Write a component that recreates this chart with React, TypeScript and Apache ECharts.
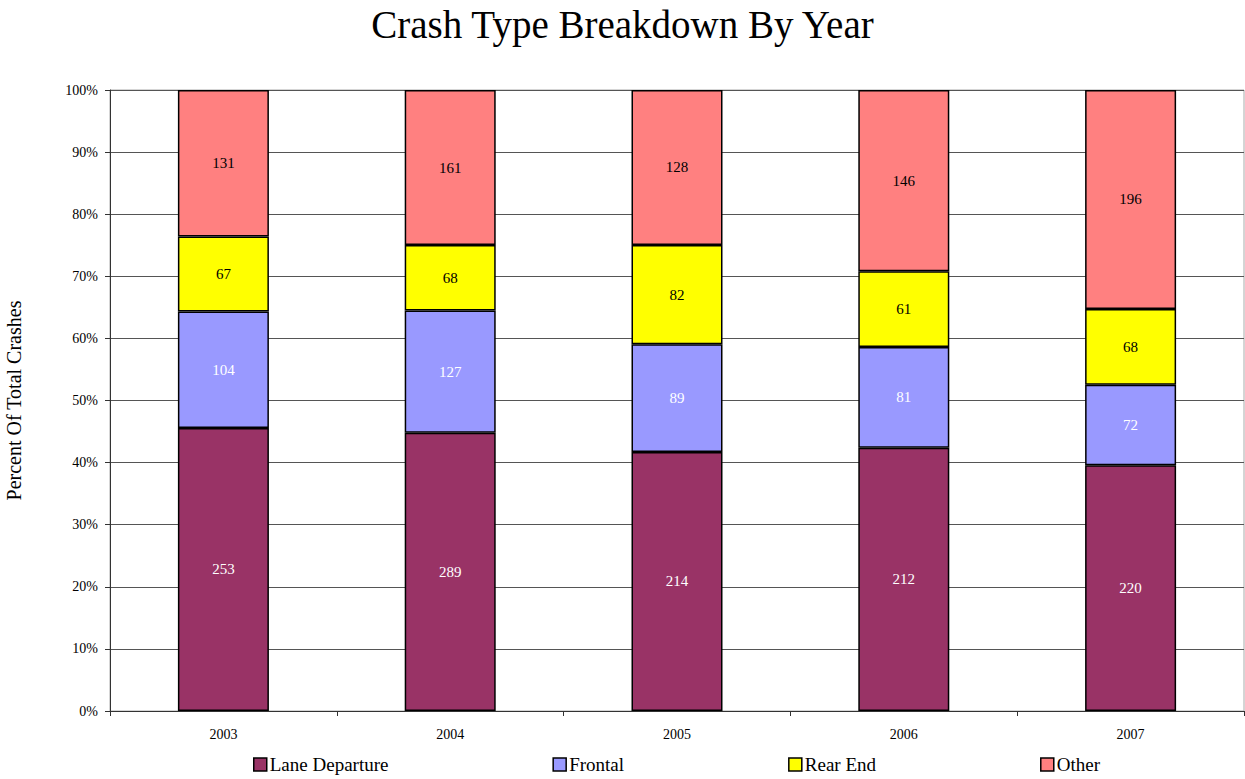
import React, { useEffect, useRef } from "react";
import * as echarts from "echarts";

const years = ["2003", "2004", "2005", "2006", "2007"];
const laneDeparture = [253, 289, 214, 212, 220];
const frontal = [104, 127, 89, 81, 72];
const rearEnd = [67, 68, 82, 61, 68];
const other = [131, 161, 128, 146, 196];
const yTicks = [0, 10, 20, 30, 40, 50, 60, 70, 80, 90, 100];

const seriesDefs = [
  { name: "Lane Departure", data: laneDeparture, color: "#993366", label: "#ffffff" },
  { name: "Frontal", data: frontal, color: "#9999ff", label: "#ffffff" },
  { name: "Rear End", data: rearEnd, color: "#ffff00", label: "#000000" },
  { name: "Other", data: other, color: "#ff8080", label: "#000000" },
];

const FONT = "'Liberation Serif', 'Times New Roman', serif";

export default function App() {
  const ref = useRef<HTMLDivElement>(null);
  useEffect(() => {
    if (!ref.current) return;
    const chart = echarts.init(ref.current, null, { renderer: "svg" });
    const totals = years.map((_, i) =>
      seriesDefs.reduce((s, d) => s + d.data[i], 0)
    );
    chart.setOption({
      animation: false,
      backgroundColor: "#ffffff",
      title: {
        text: "Crash Type Breakdown By Year",
        left: "center",
        top: 0,
        textStyle: { fontFamily: FONT, fontSize: 39, fontWeight: "normal", color: "#000" },
      },
      legend: {
        bottom: 0,
        left: 248,
        itemGap: 164,
        itemWidth: 13,
        itemHeight: 13,
        icon: "rect",
        textStyle: { fontFamily: FONT, fontSize: 19, color: "#000", padding: [0, 0, 0, -2] },
        data: seriesDefs.map((d) => ({
          name: d.name,
          itemStyle: { color: d.color, borderColor: "#000", borderWidth: 1.5 },
        })),
      },
      grid: {
        left: 110,
        right: 1,
        top: 90,
        bottom: 68,
        show: true,
        borderColor: "#aaaaaa",
        borderWidth: 1,
        outerBoundsMode: "none",
        containLabel: false,
      },
      xAxis: {
        type: "category",
        data: years,
        axisLine: { lineStyle: { color: "#333", width: 1 } },
        axisTick: { show: true, length: 5, alignWithLabel: false, lineStyle: { color: "#333" } },
        axisLabel: { fontFamily: FONT, fontSize: 14, color: "#000", margin: 16 },
      },
      yAxis: {
        type: "value",
        min: yTicks[0],
        max: yTicks[yTicks.length - 1],
        interval: 10,
        name: "Percent Of Total Crashes",
        nameLocation: "middle",
        nameGap: 86,
        nameTextStyle: { fontFamily: FONT, fontSize: 20, color: "#000" },
        axisLine: { show: true, lineStyle: { color: "#333", width: 1 } },
        axisTick: { show: true, length: 5, lineStyle: { color: "#333" } },
        axisLabel: {
          fontFamily: FONT,
          fontSize: 14,
          color: "#000",
          margin: 12,
          formatter: (v: number) => v + "%",
        },
        splitLine: { show: true, lineStyle: { color: "#555", width: 1 } },
      },
      series: seriesDefs.map((d) => ({
        name: d.name,
        type: "bar",
        stack: "total",
        barWidth: 91,
        data: d.data.map((v, i) => (v / totals[i]) * 100),
        itemStyle: { color: d.color, borderColor: "#000", borderWidth: 1.5 },
        label: {
          show: true,
          position: "inside",
          fontFamily: FONT,
          fontSize: 15,
          color: d.label,
          formatter: (p: any) => String(d.data[p.dataIndex]),
        },
      })),
    });
    return () => chart.dispose();
  }, []);
  return (
    <div
      ref={ref}
      style={{ position: "fixed", left: 0, top: 0, width: 1245, height: 779 }}
    />
  );
}
